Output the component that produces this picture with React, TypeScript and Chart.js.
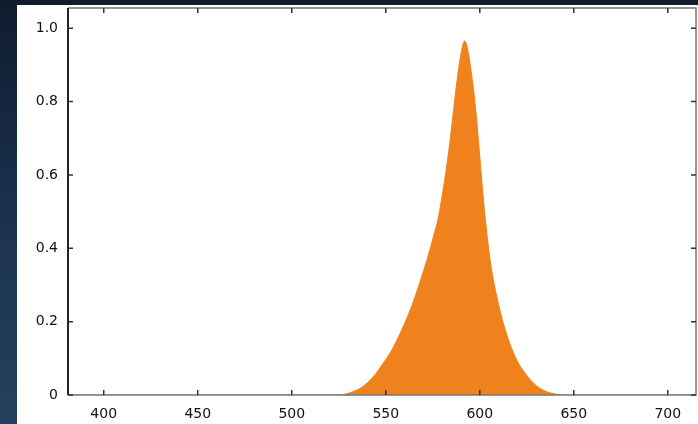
import React, { useEffect, useRef } from "react";
import { Chart, registerables } from "chart.js";

Chart.register(...registerables);

const wavelengths = [381, 525, 529, 533, 537, 541, 545, 548, 552, 556, 560, 564, 568, 572, 575, 578, 581, 584, 586, 588, 590, 592, 594, 596, 598, 600, 602, 604, 606, 609, 612, 616, 620, 624, 628, 632, 636, 640, 645, 715];
const intensity = [0, 0, 0.003, 0.01, 0.02, 0.037, 0.06, 0.082, 0.112, 0.15, 0.195, 0.245, 0.305, 0.37, 0.425, 0.485, 0.575, 0.685, 0.775, 0.86, 0.93, 0.965, 0.93, 0.86, 0.77, 0.65, 0.53, 0.43, 0.35, 0.27, 0.205, 0.14, 0.092, 0.06, 0.035, 0.018, 0.008, 0.003, 0, 0];
const xTicks = [400, 450, 500, 550, 600, 650, 700];
const yTicks = [0, 0.2, 0.4, 0.6, 0.8, 1.0];
const yTickLabels = ["0", "0.2", "0.4", "0.6", "0.8", "1.0"];

const framePlugin = {
  id: "frame",
  afterDatasetsDraw(chart: any) {
    const { ctx, chartArea: a, scales } = chart;
    const xs = scales.x;
    const ys = scales.y;
    ctx.save();
    ctx.strokeStyle = "#777";
    ctx.lineWidth = 1.5;
    ctx.beginPath();
    ctx.moveTo(a.left, a.top);
    ctx.lineTo(a.right, a.top);
    ctx.lineTo(a.right, a.bottom);
    ctx.lineTo(a.left, a.bottom);
    ctx.stroke();
    ctx.strokeStyle = "#222";
    ctx.lineWidth = 2;
    ctx.beginPath();
    ctx.moveTo(a.left, a.top);
    ctx.lineTo(a.left, a.bottom);
    ctx.stroke();
    ctx.strokeStyle = "#333";
    ctx.lineWidth = 1.5;
    const tl = 5;
    ctx.beginPath();
    for (const v of xTicks) {
      const px = xs.getPixelForValue(v);
      ctx.moveTo(px, a.bottom);
      ctx.lineTo(px, a.bottom - tl);
      ctx.moveTo(px, a.top);
      ctx.lineTo(px, a.top + tl);
    }
    for (const v of yTicks) {
      const py = ys.getPixelForValue(v);
      ctx.moveTo(a.left, py);
      ctx.lineTo(a.left + tl, py);
      ctx.moveTo(a.right, py);
      ctx.lineTo(a.right - tl, py);
    }
    ctx.stroke();
    ctx.restore();
  },
};

export default function App() {
  const ref = useRef<HTMLCanvasElement>(null);
  useEffect(() => {
    document.body.style.margin = "0";
    const data = wavelengths.map((w, i) => ({ x: w, y: intensity[i] }));
    const chart = new Chart(ref.current!, {
      type: "line",
      data: {
        datasets: [
          {
            data,
            borderColor: "rgb(240,130,30)",
            backgroundColor: "rgb(240,130,30)",
            borderWidth: 1,
            fill: "origin",
            pointRadius: 0,
            cubicInterpolationMode: "monotone",
          },
        ],
      },
      options: {
        animation: false,
        responsive: false,
        maintainAspectRatio: false,
        layout: { padding: { top: 3, right: 2, left: 0, bottom: 0 } },
        plugins: { legend: { display: false }, tooltip: { enabled: false } },
        scales: {
          x: {
            type: "linear",
            min: 381,
            max: 715,
            grid: { display: false, drawTicks: false },
            border: { display: false },
            afterBuildTicks: (s: any) => {
              s.ticks = xTicks.map((v) => ({ value: v }));
            },
            afterFit: (s: any) => {
              s.height = 29;
              s.paddingLeft = 0;
              s.paddingRight = 0;
            },
            ticks: {
              autoSkip: false,
              maxRotation: 0,
              padding: 11,
              color: "#111",
              font: { family: "DejaVu Sans", size: 14 },
              callback: (v: any) => String(v),
            },
          },
          y: {
            min: 0,
            max: 1.055,
            grid: { display: false, drawTicks: false },
            border: { display: false },
            afterBuildTicks: (s: any) => {
              s.ticks = yTicks.map((v) => ({ value: v }));
            },
            afterFit: (s: any) => {
              s.width = 51;
              s.paddingTop = 0;
              s.paddingBottom = 0;
            },
            ticks: {
              padding: 10,
              color: "#111",
              font: { family: "DejaVu Sans", size: 14 },
              callback: (v: any) => {
                const i = yTicks.findIndex((t) => Math.abs(t - v) < 1e-6);
                return i >= 0 ? yTickLabels[i] : "";
              },
            },
          },
        },
      },
      plugins: [framePlugin],
    });
    return () => chart.destroy();
  }, []);
  return (
    <div
      style={{
        position: "relative",
        width: 698,
        height: 424,
        overflow: "hidden",
        background: "linear-gradient(180deg, #0f1c2e 0%, #1b3150 50%, #24425f 100%)",
      }}
    >
      <div
        style={{
          position: "absolute",
          left: 17,
          top: 5,
          width: 681,
          height: 419,
          background: "#ffffff",
        }}
      >
        <canvas ref={ref} width={681} height={419} style={{ display: "block" }} />
      </div>
    </div>
  );
}
